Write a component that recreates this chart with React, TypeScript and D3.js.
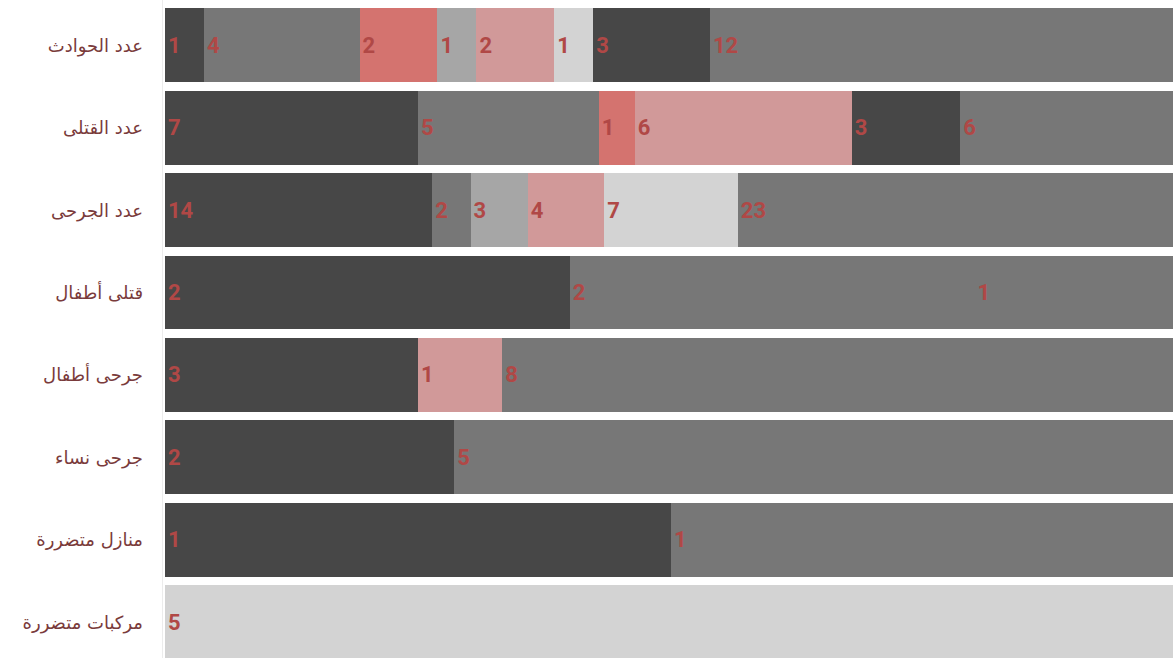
import React from "react";
import * as d3 from "d3";

const categories = [
  "عدد الحوادث",
  "عدد القتلى",
  "عدد الجرحى",
  "قتلى أطفال",
  "جرحى أطفال",
  "جرحى نساء",
  "منازل متضررة",
  "مركبات متضررة",
];

const seriesKeys = ["s1", "s2", "s3", "s4", "s5", "s6", "s7", "s8"];

const s1 = [1, 7, 14, 2, 3, 2, 1, 0];
const s2 = [4, 5, 2, 2, 0, 0, 0, 0];
const s3 = [2, 1, 0, 0, 0, 0, 0, 0];
const s4 = [1, 0, 3, 0, 0, 0, 0, 0];
const s5 = [2, 6, 4, 0, 1, 0, 0, 0];
const s6 = [1, 0, 7, 0, 0, 0, 0, 5];
const s7 = [3, 3, 0, 0, 0, 0, 0, 0];
const s8 = [12, 6, 23, 1, 8, 5, 1, 0];

const seriesValues = [s1, s2, s3, s4, s5, s6, s7, s8];

const seriesColors = [
  "#474747",
  "#777777",
  "#d4736f",
  "#a6a6a6",
  "#d19999",
  "#d3d3d3",
  "#474747",
  "#777777",
];

const W = 1173;
const H = 658;

export default function App() {
  const rows = categories.map((c, i) => {
    const r: Record<string, any> = { category: c };
    seriesKeys.forEach((k, j) => (r[k] = seriesValues[j][i]));
    return r;
  });

  const stacked = d3
    .stack<Record<string, any>>()
    .keys(seriesKeys)
    .offset(d3.stackOffsetExpand)(rows);

  const x = d3.scaleLinear().domain([0, 1]).range([165, 1177]);
  const y = d3
    .scaleBand<string>()
    .domain(categories)
    .range([8.3, 659.1])
    .paddingInner(0.102)
    .paddingOuter(0);

  return (
    <svg
      width={W}
      height={H}
      style={{ position: "absolute", left: 0, top: 0, background: "#fff" }}
    >
      <line x1={162.5} x2={162.5} y1={0} y2={H} stroke="#ececec" strokeWidth={1} />
      {stacked.map((layer, j) => (
        <g key={layer.key} fill={seriesColors[j]} shapeRendering="crispEdges">
          {layer.map((d, i) => {
            const w = x(d[1]) - x(d[0]);
            if (w <= 0) return null;
            return (
              <rect
                key={i}
                x={x(d[0])}
                y={y(categories[i])!}
                width={w + 0.5}
                height={y.bandwidth()}
              />
            );
          })}
        </g>
      ))}
      {stacked.map((layer, j) => (
        <g key={"l" + layer.key}>
          {layer.map((d, i) => {
            const v = seriesValues[j][i];
            if (!v) return null;
            return (
              <text
                key={i}
                x={x(d[0]) + 3}
                y={y(categories[i])! + y.bandwidth() / 2}
                dominantBaseline="central"
                fontFamily="Roboto, sans-serif"
                fontWeight={700}
                fontSize={22}
                fill="#b04846"
              >
                {v}
              </text>
            );
          })}
        </g>
      ))}
      {categories.map((c) => (
        <text
          key={c}
          x={143}
          y={y(c)! + y.bandwidth() / 2}
          dominantBaseline="central"
          textAnchor="end"
          fontFamily="'DejaVu Sans', sans-serif"
          fontSize={18}
          fill="#7a3b3b"
        >
          {c}
        </text>
      ))}
    </svg>
  );
}
